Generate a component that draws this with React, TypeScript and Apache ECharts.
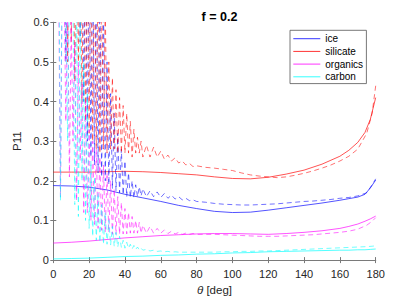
import React, { useEffect, useRef } from "react";
import * as echarts from "echarts";

const seriesNames = ["ice", "silicate", "organics", "carbon"];
const seriesColors = ["#0000ff", "#ff0000", "#ff00ff", "#00ffff"];
const xTicks = [0, 20, 40, 60, 80, 100, 120, 140, 160, 180];
const yTicks = [0, 0.1, 0.2, 0.3, 0.4, 0.5, 0.6];

// solid curves
const solidTheta = [0, 10, 20, 30, 40, 50, 60, 70, 80, 90, 100, 110, 120, 130, 140, 150, 160, 165, 170, 174, 177, 180];
const iceSolid = [0.188, 0.187, 0.184, 0.177, 0.166, 0.157, 0.148, 0.138, 0.13, 0.123, 0.12, 0.121, 0.126, 0.132, 0.138, 0.144, 0.151, 0.155, 0.159, 0.166, 0.182, 0.202];
const silicateSolid = [0.222, 0.222, 0.222, 0.223, 0.224, 0.223, 0.221, 0.218, 0.215, 0.21, 0.206, 0.205, 0.209, 0.217, 0.227, 0.242, 0.262, 0.277, 0.297, 0.322, 0.355, 0.41];
const organicsSolid = [0.043, 0.045, 0.048, 0.052, 0.056, 0.059, 0.062, 0.064, 0.066, 0.067, 0.067, 0.066, 0.065, 0.067, 0.07, 0.074, 0.08, 0.085, 0.091, 0.098, 0.104, 0.111];
const carbonSolid = [0.003, 0.004, 0.005, 0.007, 0.009, 0.01, 0.012, 0.013, 0.015, 0.016, 0.018, 0.019, 0.021, 0.022, 0.023, 0.024, 0.025, 0.025, 0.026, 0.026, 0.027, 0.028];

// dashed curves
const dashTheta = [
  0, 1, 2, 3, 4, 5, 6, 7, 8, 9,
  10, 11, 12, 13, 14, 15, 16, 17, 18, 19,
  20, 21, 22, 23, 24, 25, 26, 27, 28, 29,
  30, 31, 32, 33, 34, 35, 36, 37, 38, 39,
  40, 41, 42, 43, 44, 45, 46, 47, 48, 49, 50,
  52, 54, 56, 58, 60, 62, 64, 66, 68, 70, 72, 74, 76, 78, 80,
  85, 90, 95, 100, 105, 110, 115, 120, 125, 130, 135, 140, 145, 150, 155, 160, 165, 170, 175,
  178, 180,
];
const iceDashed = [
  2.0, 1.6, 1.3, 1.1, 0.95, 0.9, 0.8, 0.5, 0.85, 0.75,
  0.8, 0.7, 0.8, 0.65, 0.8, 0.55, 0.85, 0.4, 0.8, 0.3,
  0.8, 0.26, 0.8, 0.24, 0.75, 0.22, 0.7, 0.21, 0.65, 0.2,
  0.5, 0.19, 0.42, 0.18, 0.37, 0.175, 0.32, 0.17, 0.28, 0.165,
  0.25, 0.16, 0.22, 0.158, 0.2, 0.157, 0.19, 0.16, 0.185, 0.162, 0.18,
  0.16, 0.175, 0.16, 0.172, 0.158, 0.168, 0.156, 0.164, 0.154, 0.16, 0.152, 0.156, 0.15, 0.152, 0.148,
  0.146, 0.143, 0.141, 0.14, 0.139, 0.139, 0.14, 0.141, 0.142, 0.144, 0.146, 0.148, 0.149, 0.151, 0.153, 0.156, 0.158, 0.162, 0.17,
  0.19, 0.205,
];
const silicateDashed = [
  1.8, 1.4, 1.1, 0.95, 0.85, 0.8, 0.7, 0.9, 0.5, 0.85,
  0.55, 0.9, 0.45, 0.85, 0.5, 0.8, 0.4, 0.85, 0.35, 0.8,
  0.32, 0.8, 0.3, 0.78, 0.28, 0.75, 0.27, 0.7, 0.28, 0.65,
  0.27, 0.5, 0.28, 0.46, 0.28, 0.43, 0.27, 0.41, 0.27, 0.39,
  0.27, 0.37, 0.27, 0.35, 0.26, 0.33, 0.27, 0.31, 0.27, 0.3, 0.26,
  0.29, 0.26, 0.285, 0.26, 0.275, 0.255, 0.265, 0.25, 0.258, 0.245, 0.25, 0.24, 0.244, 0.236, 0.238,
  0.234, 0.232, 0.229, 0.226, 0.22, 0.215, 0.212, 0.21, 0.208, 0.21, 0.214, 0.219, 0.225, 0.232, 0.24, 0.25, 0.262, 0.28, 0.32,
  0.37, 0.44,
];
const organicsDashed = [
  1.2, 0.9, 0.75, 0.68, 0.16, 0.75, 0.7, 0.35, 0.65, 0.21,
  0.6, 0.3, 0.55, 0.15, 0.5, 0.25, 0.45, 0.12, 0.4, 0.12,
  0.33, 0.1, 0.3, 0.09, 0.28, 0.08, 0.26, 0.075, 0.24, 0.07,
  0.22, 0.07, 0.2, 0.065, 0.18, 0.065, 0.16, 0.065, 0.145, 0.066,
  0.13, 0.066, 0.12, 0.068, 0.11, 0.068, 0.1, 0.068, 0.095, 0.068, 0.088,
  0.068, 0.085, 0.068, 0.08, 0.068, 0.076, 0.067, 0.073, 0.066, 0.07, 0.065, 0.068, 0.065, 0.067, 0.065,
  0.065, 0.065, 0.064, 0.063, 0.062, 0.061, 0.06, 0.06, 0.06, 0.061, 0.062, 0.063, 0.064, 0.066, 0.068, 0.07, 0.073, 0.078, 0.088,
  0.098, 0.107,
];
const carbonDashed = [
  1.5, 1.2, 1.0, 0.9, 0.15, 0.8, 0.75, 0.7, 0.3, 0.7,
  0.68, 0.65, 0.14, 0.66, 0.11, 0.62, 0.2, 0.5, 0.1, 0.42,
  0.08, 0.25, 0.06, 0.21, 0.05, 0.17, 0.045, 0.14, 0.04, 0.12,
  0.04, 0.1, 0.038, 0.085, 0.035, 0.07, 0.033, 0.06, 0.032, 0.05,
  0.03, 0.045, 0.03, 0.04, 0.028, 0.037, 0.027, 0.033, 0.026, 0.03, 0.025,
  0.027, 0.023, 0.025, 0.022, 0.023, 0.021, 0.022, 0.02, 0.021, 0.02, 0.02, 0.02, 0.02, 0.02, 0.02,
  0.02, 0.02, 0.021, 0.021, 0.022, 0.022, 0.023, 0.023, 0.024, 0.025, 0.026, 0.027, 0.028, 0.029, 0.03, 0.031, 0.032, 0.033, 0.034,
  0.035, 0.036,
];

const solidValues = [iceSolid, silicateSolid, organicsSolid, carbonSolid];
const dashedValues = [iceDashed, silicateDashed, organicsDashed, carbonDashed];

const FONT = "'Liberation Sans', Arial, Helvetica, sans-serif";
const AXIS_COLOR = "#7a7a7a";
const TEXT_COLOR = "#262626";

export default function App() {
  const ref = useRef<HTMLDivElement>(null);

  useEffect(() => {
    document.body.style.margin = "0";
    if (!ref.current) return;
    const chart = echarts.init(ref.current, undefined, { renderer: "svg" });

    const series: any[] = [];
    seriesNames.forEach((n, k) => {
      series.push({
        type: "line",
        name: n,
        data: solidTheta.map((t, i) => [t, solidValues[k][i]]),
        symbol: "none",
        showSymbol: false,
        clip: true,
        silent: true,
        lineStyle: { color: seriesColors[k], width: 0.8, opacity: 0.85 },
        itemStyle: { color: seriesColors[k] },
      });
    });
    seriesNames.forEach((n, k) => {
      series.push({
        type: "line",
        name: n + " dashed",
        data: dashTheta.map((t, i) => [t, dashedValues[k][i]]),
        symbol: "none",
        showSymbol: false,
        clip: true,
        silent: true,
        lineStyle: { color: seriesColors[k], width: 0.7, opacity: 0.8, type: [5, 3.5] },
        itemStyle: { color: seriesColors[k] },
      });
    });

    const axisCommon = {
      type: "value" as const,
      axisLine: { show: true, lineStyle: { color: AXIS_COLOR, width: 1 } },
      axisTick: { show: true, inside: true, length: 3, lineStyle: { color: AXIS_COLOR, width: 1 } },
      splitLine: { show: false },
    };

    chart.setOption({
      animation: false,
      backgroundColor: "#ffffff",
      textStyle: { fontFamily: FONT },
      title: {
        text: "f = 0.2",
        left: 214.5,
        top: 5,
        textAlign: "center",
        textStyle: { fontFamily: FONT, fontSize: 12.5, fontWeight: "bold", color: "#000" },
      },
      legend: {
        data: seriesNames,
        orient: "vertical",
        left: 290,
        top: 30.3,
        padding: [2.4, 3.3, 0.8, 3.3],
        icon: "rect",
        itemWidth: 27,
        itemHeight: 1,
        itemGap: 0.7,
        borderColor: "#555",
        borderWidth: 0.8,
        backgroundColor: "#fff",
        itemStyle: { opacity: 0.8 },
        textStyle: { fontFamily: FONT, fontSize: 10, color: "#000", lineHeight: 12 },
        selectedMode: false,
      },
      grid: { left: 53.3, right: 39.3, top: 22.3, bottom: 35.3, containLabel: false },
      xAxis: [
        {
          ...axisCommon,
          min: 0,
          max: 180,
          interval: 20,
          position: "bottom",
          name: "{i|θ} [deg]",
          nameLocation: "middle",
          nameGap: 21,
          nameTextStyle: {
            fontFamily: FONT,
            fontSize: 11.5,
            color: TEXT_COLOR,
            rich: { i: { fontStyle: "italic", fontFamily: FONT, fontSize: 11.5, color: TEXT_COLOR } },
          },
          axisLabel: { show: true, margin: 8, fontFamily: FONT, fontSize: 11, color: TEXT_COLOR, customValues: xTicks },
        },
        {
          ...axisCommon,
          min: 0,
          max: 180,
          interval: 20,
          position: "top",
          axisLabel: { show: false },
        },
      ],
      yAxis: [
        {
          ...axisCommon,
          min: 0,
          max: 0.6,
          interval: 0.1,
          position: "left",
          name: "P11",
          nameLocation: "middle",
          nameGap: 25,
          nameRotate: 90,
          nameTextStyle: { fontFamily: FONT, fontSize: 11.5, color: TEXT_COLOR },
          axisLabel: { show: true, margin: 4.5, fontFamily: FONT, fontSize: 11, color: TEXT_COLOR, customValues: yTicks },
        },
        {
          ...axisCommon,
          min: 0,
          max: 0.6,
          interval: 0.1,
          position: "right",
          axisLabel: { show: false },
        },
      ],
      series,
    });

    return () => chart.dispose();
  }, []);

  return <div ref={ref} style={{ width: 415, height: 301 }} />;
}
